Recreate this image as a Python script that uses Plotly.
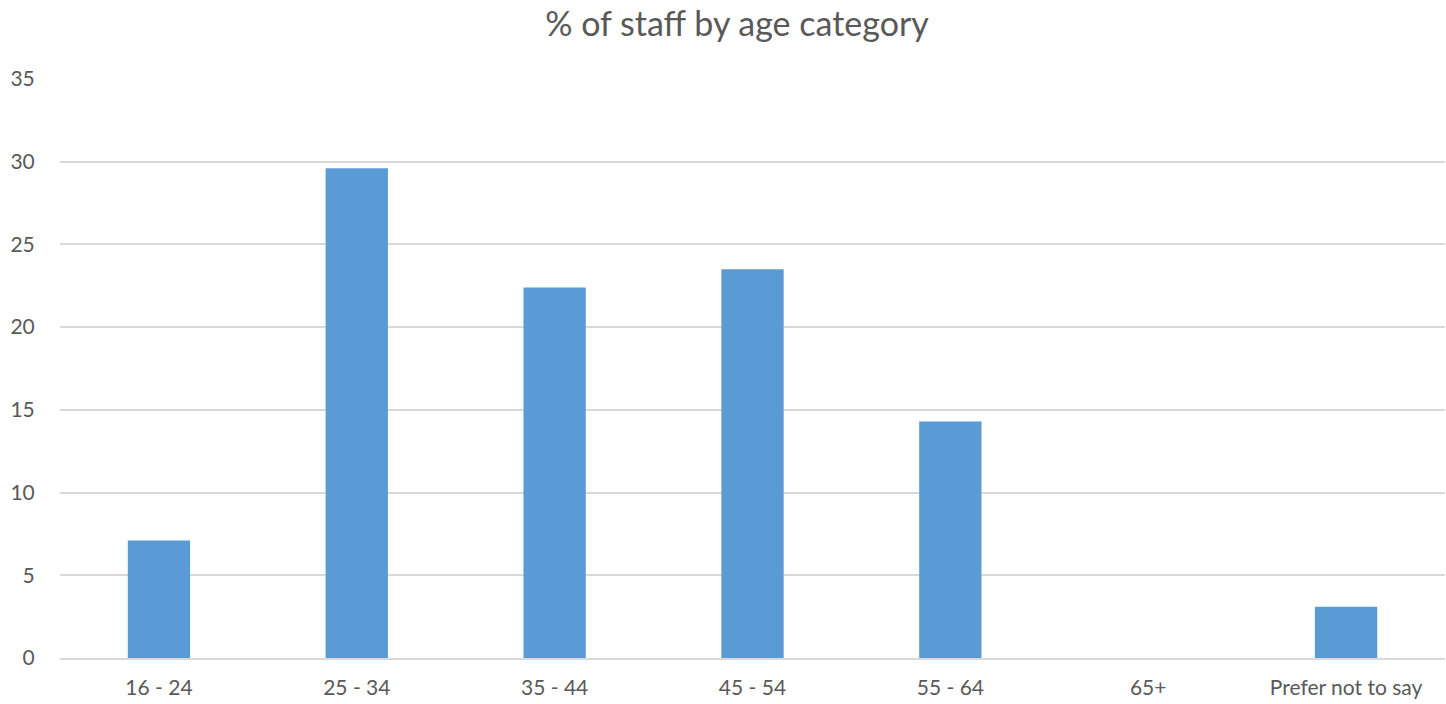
import plotly.graph_objects as go

# Share of staff in each age band (%)
age_bands = ["16 - 24", "25 - 34", "35 - 44", "45 - 54", "55 - 64", "65+", "Prefer not to say"]
staff_pct = [7.1, 29.6, 22.4, 23.5, 14.3, 0, 3.1]
y_ticks = [0, 5, 10, 15, 20, 25, 30, 35]

FONT = "Lato, 'Open Sans', sans-serif"
TEXT = "#595959"
TICK_SIZE = 21

fig = go.Figure(
    go.Bar(
        x=age_bands,
        y=staff_pct,
        marker=dict(color="#5B9BD5", line=dict(width=0)),
        hoverinfo="x+y",
    )
)

fig.update_layout(
    width=1446,
    height=704,
    margin=dict(l=60, r=1, t=79, b=46),
    paper_bgcolor="white",
    plot_bgcolor="white",
    bargap=0.685,
    showlegend=False,
    font=dict(family=FONT, color=TEXT, size=TICK_SIZE),
    title=dict(
        text="% of staff by age category",
        x=0.5097,
        xref="container",
        xanchor="center",
        y=0.966,
        yref="container",
        yanchor="middle",
        font=dict(family=FONT, size=34, color=TEXT),
    ),
    xaxis=dict(
        showgrid=False,
        showline=True,
        linecolor="#D9D9D9",
        linewidth=1.5,
        ticks="outside",
        ticklen=10,
        tickcolor="rgba(0,0,0,0)",
        tickfont=dict(family=FONT, size=TICK_SIZE, color=TEXT),
    ),
    yaxis=dict(
        range=[0, 35],
        tickvals=y_ticks,
        showgrid=True,
        gridcolor="#D9D9D9",
        gridwidth=1.5,
        zeroline=False,
        showline=False,
        ticks="outside",
        ticklen=20,
        tickcolor="rgba(0,0,0,0)",
        tickfont=dict(family=FONT, size=TICK_SIZE, color=TEXT),
    ),
)

fig.write_html("out.html")
